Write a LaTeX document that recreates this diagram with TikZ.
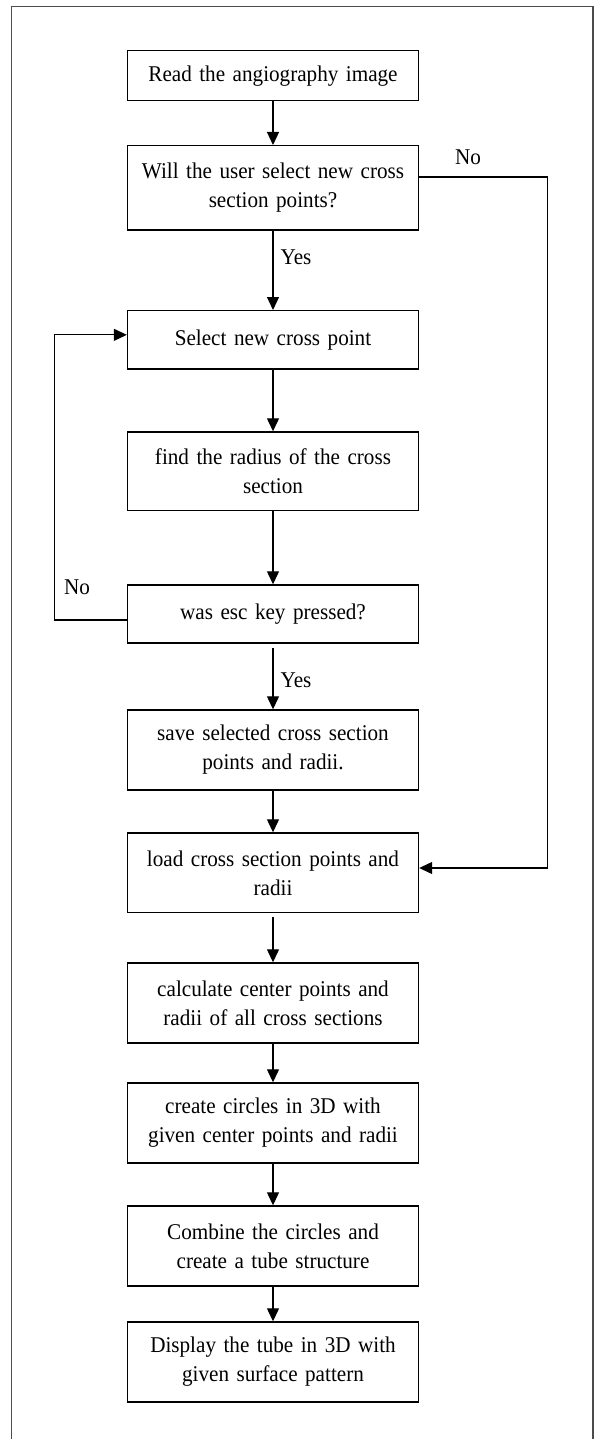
\documentclass[tikz,border=0pt]{standalone}
\usepackage{fontspec}
\setmainfont{Liberation Serif}[FakeStretch=0.94]
\usetikzlibrary{arrows.meta}
\begin{document}
\begin{tikzpicture}[x=1pt,y=-1pt,
  font=\fontsize{22.5}{29}\selectfont,
  procbox/.style={draw=black,line width=1.4pt,minimum width=291pt,inner sep=0pt,text width=280pt,align=center},
  arr/.style={draw=black,line width=1.2pt,-{Triangle[width=12pt,length=13pt]}},
  lbl/.style={inner sep=0pt}]
\useasboundingbox (0,0) rectangle (595,1439);
\draw[color=black!70,line width=1.2pt] (11.7,1440) -- (11.7,6.3) -- (593,6.3) -- (593,1440);
\node[procbox,minimum height=50pt] (b1) at (273,75.7) {Read the angiography image};
\node[procbox,minimum height=84.3pt] (b2) at (273,187.85) {Will the user select new cross\\section points?};
\node[procbox,minimum height=58.3pt] (b3) at (273,339.85) {Select new cross point};
\node[procbox,minimum height=78.7pt] (b4) at (273,471.35) {find the radius of the cross\\section};
\node[procbox,minimum height=58pt] (b5) at (273,614) {was esc key pressed?};
\node[procbox,minimum height=80pt] (b6) at (273,750) {save selected cross section\\points and radii.};
\node[procbox,minimum height=79.7pt] (b7) at (273,872.85) {load cross section points and\\radii};
\node[procbox,minimum height=80pt] (b8) at (273,1003) {calculate center points and\\radii of all cross sections};
\node[procbox,minimum height=80pt] (b9) at (273,1123) {create circles in 3D with\\given center points and radii};
\node[procbox,minimum height=80pt] (b10) at (273,1246) {Combine the circles and\\create a tube structure};
\node[procbox,minimum height=80pt] (b11) at (273,1362) {Display the tube in 3D with\\given surface pattern};
\draw[arr] (b1) -- (b2);
\draw[arr] (b2) -- (b3);
\draw[arr] (b3) -- (b4);
\draw[arr] (b4) -- (b5);
\draw[arr,shorten <=4pt] (b5) -- (b6);
\draw[arr] (b6) -- (b7);
\draw[arr,shorten <=4pt] (b7) -- (b8);
\draw[arr] (b8) -- (b9);
\draw[arr] (b9) -- (b10);
\draw[arr] (b10) -- (b11);
\coordinate (lc) at (54.3,620);
\coordinate (rc) at (547.3,177);
\draw[arr] ([yshift=-6pt]b5.west) -- (lc) |- ([yshift=5pt]b3.west);
\draw[arr] ([yshift=10.85pt]b2.east) -- (rc) |- ([yshift=4.85pt]b7.east);
\node[lbl] (no1) at (468,157) {No};
\node[lbl] (no2) at (77,587) {No};
\node[lbl] (yes1) at (296,257) {Yes};
\node[lbl] (yes2) at (296,680) {Yes};
\end{tikzpicture}
\end{document}
